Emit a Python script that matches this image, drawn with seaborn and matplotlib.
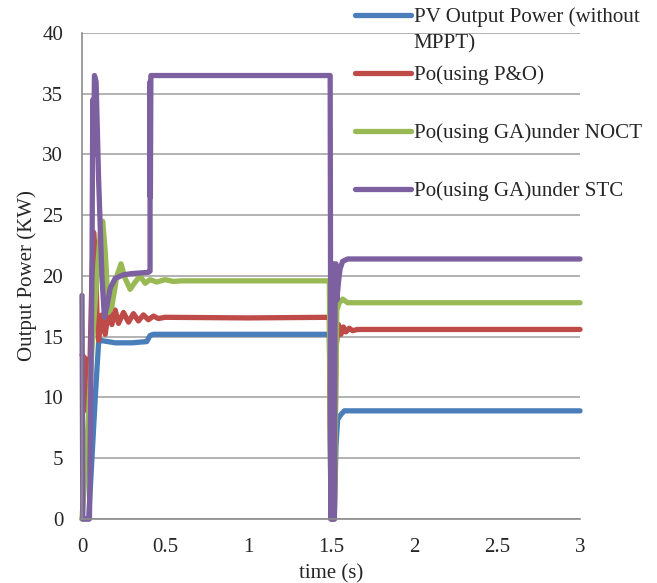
import pandas as pd
import matplotlib
matplotlib.use("Agg")
import matplotlib.pyplot as plt
import seaborn as sns

# values (time in s, power in kW)
t_pv = [0, 0.04, 0.06, 0.08, 0.09, 0.10, 0.11, 0.2, 0.3, 0.39, 0.41, 0.43, 1.0, 1.49, 1.50, 1.52,
        1.53, 1.54, 1.56, 1.58, 2.0, 3.0]
p_pv = [0, 0, 5, 10, 12.3, 14.5, 14.7, 14.5, 14.5, 14.6, 15.1, 15.2, 15.2, 15.2, 0, 0,
        6, 8.2, 8.6, 8.9, 8.9, 8.9]

t_po = [0, 0.02, 0.03, 0.04, 0.05, 0.06, 0.07, 0.08, 0.09, 0.10, 0.12, 0.14, 0.16, 0.18, 0.20,
        0.22, 0.25, 0.28, 0.31, 0.34, 0.37, 0.40, 0.43, 0.46, 0.5, 1.0, 1.49, 1.50, 1.52,
        1.53, 1.545, 1.56, 1.575, 1.59, 1.61, 1.63, 1.66, 3.0]
p_po = [13.5, 13.2, 9.0, 8.7, 14, 20, 23.6, 22, 17, 14.7, 16.8, 15.2, 17.3, 16.0, 17.2,
        16.1, 17.0, 16.2, 16.9, 16.3, 16.8, 16.4, 16.7, 16.5, 16.6, 16.55, 16.6, 0, 0,
        14, 16.0, 15.2, 15.8, 15.4, 15.7, 15.5, 15.6, 15.6]

t_noct = [0, 0.02, 0.03, 0.06, 0.09, 0.11, 0.125, 0.14, 0.16, 0.18, 0.21, 0.235, 0.26, 0.29,
          0.32, 0.35, 0.38, 0.41, 0.45, 0.5, 0.55, 0.6, 1.49, 1.50, 1.52, 1.535, 1.55, 1.57,
          1.6, 3.0]
p_noct = [0, 4, 6.2, 14, 20, 23.5, 24.5, 22, 17, 17.5, 20.0, 21.0, 19.8, 18.9,
          19.5, 20.0, 19.4, 19.7, 19.5, 19.7, 19.55, 19.6, 19.6, 0, 0, 17.2, 17.8, 18.1,
          17.8, 17.8]

t_stc = [0, 0.005, 0.045, 0.06, 0.065, 0.07, 0.075, 0.085, 0.10, 0.12, 0.135, 0.15, 0.17, 0.2,
         0.25, 0.3, 0.4, 0.41, 0.41, 0.412, 0.415, 0.42, 1.495, 1.50, 1.505, 1.51, 1.515,
         1.52, 1.525, 1.53, 1.535, 1.545, 1.555, 1.57, 1.6, 3.0]
p_stc = [18.4, 0, 0, 20, 34.5, 30, 36.5, 36, 28, 20, 16.6, 17.5, 19.0, 19.8,
         20.1, 20.2, 20.3, 20.4, 36.0, 26.5, 36.5, 36.5, 36.5, 0, 20.8, 0, 21.0,
         0, 20.5, 21.0, 18, 19.5, 20.6, 21.2, 21.4, 21.4]

labels = ["PV Output Power (without\nMPPT)", "Po(using P&O)",
          "Po(using GA)under NOCT", "Po(using GA)under STC"]
colors = ["#4A7EBB", "#BE4B48", "#98B954", "#7D60A0"]

frames = []
for name, t, p in zip(labels, [t_pv, t_po, t_noct, t_stc], [p_pv, p_po, p_noct, p_stc]):
    frames.append(pd.DataFrame({"time": t, "power": p, "series": name}))
df = pd.concat(frames, ignore_index=True)

sns.set_style("white")
plt.rcParams["font.family"] = ["Liberation Serif", "DejaVu Serif"]
plt.rcParams["font.size"] = 15

fig = plt.figure(figsize=(6.57, 5.83), dpi=100)
ax = fig.add_axes([0.1248, 0.1098, 0.7580, 0.8336])

sns.lineplot(data=df, x="time", y="power", hue="series", hue_order=labels,
             palette=colors, estimator=None, sort=False, linewidth=3.8,
             ax=ax, legend=False)
lines = ax.get_lines()
for line in lines:
    line.set_clip_on(False)
    line.set_solid_joinstyle("round")
    line.set_solid_capstyle("round")

ax.set_xlim(0, 3)
ax.set_ylim(0, 40)
ax.set_xticks([0, 0.5, 1, 1.5, 2, 2.5, 3])
ax.set_xticklabels(["0", "0.5", "1", "1.5", "2", "2.5", "3"])
ax.set_yticks(range(0, 41, 5))
ax.yaxis.grid(True, color="#a6a6a6", linewidth=1.2)
ax.set_axisbelow(True)
for s in ["top", "right"]:
    ax.spines[s].set_visible(False)
for s in ["left", "bottom"]:
    ax.spines[s].set_color("#8c8c8c")
    ax.spines[s].set_linewidth(1.2)
ax.tick_params(axis="both", direction="out", length=5, width=1.2, color="#8c8c8c",
               labelsize=15)
ax.tick_params(axis="x", pad=9)
ax.tick_params(axis="y", pad=8.5)
ax.set_xlabel("time (s)", fontsize=15, labelpad=5)
ax.set_ylabel("Output Power (KW)", fontsize=15, labelpad=4)

# legend like Excel: equal slots, first label wraps onto a second line
first, rest = labels[0].split("\n")
leg = ax.legend(lines, [first] + labels[1:], loc="upper left",
                bbox_to_anchor=(355 / 657, 0.987), bbox_transform=fig.transFigure,
                frameon=False, fontsize=15.1, handlelength=2.65, handletextpad=0.15,
                labelspacing=1.82, borderaxespad=0, borderpad=0)
for h in leg.get_lines():
    h.set_linewidth(3.8)
    h.set_solid_capstyle("round")
ax.annotate(rest, xy=(0, 0), xycoords=leg.get_texts()[0], xytext=(0, -26 * 0.72),
            textcoords="offset points", ha="left", va="bottom", fontsize=15.1,
            zorder=6, annotation_clip=False)

fig.savefig("out.png", dpi=100)
